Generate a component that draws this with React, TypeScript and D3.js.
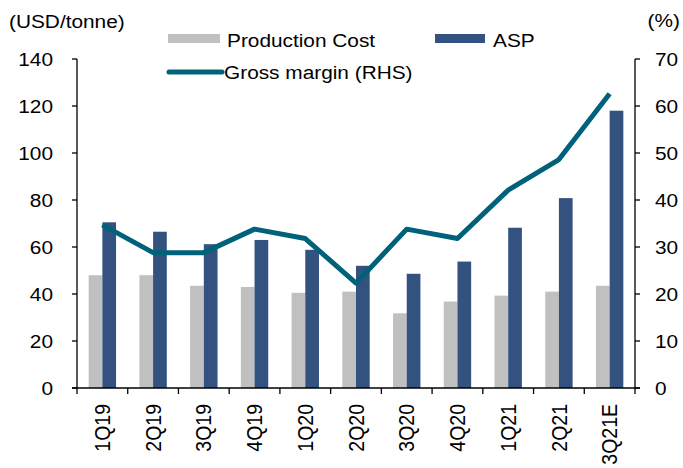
import * as d3 from 'd3'

const quarters = ['1Q19', '2Q19', '3Q19', '4Q19', '1Q20', '2Q20', '3Q20', '4Q20', '1Q21', '2Q21', '3Q21E']
const productionCost = [48, 48, 43.5, 43, 40.5, 41, 31.8, 36.8, 39.3, 41, 43.5]
const asp = [70.5, 66.5, 61.2, 63, 58.8, 52, 48.6, 53.8, 68.2, 80.8, 118]
const grossMargin = [34.7, 28.8, 28.8, 33.8, 31.8, 22.3, 33.8, 31.8, 42.1, 48.6, 62.6]
const leftTicks = [0, 20, 40, 60, 80, 100, 120, 140]
const rightTicks = [0, 10, 20, 30, 40, 50, 60, 70]

const W = 683
const H = 468
const MARGIN = { top: 59, right: 48, bottom: 80, left: 77 }
const FONT = 'Liberation Sans, Arial, sans-serif'
const FS = 18.6
const SX = 1.12 // reference text is slightly stretched horizontally
const GRAY = '#c0c0c0'
const BLUE = '#34527f'
const TEAL = '#00627a'

// text with the horizontal stretch of the reference
const T = ({ x, y, anchor = 'start', dy, children }: any) => (
  <text
    transform={`translate(${x},${y}) scale(${SX},1)`}
    textAnchor={anchor}
    dy={dy}
    fontSize={FS}
  >
    {children}
  </text>
)

export default function App() {
  const boundsWidth = W - MARGIN.left - MARGIN.right
  const boundsHeight = H - MARGIN.top - MARGIN.bottom

  const xScale = d3.scaleBand().domain(quarters).range([0, boundsWidth]).padding(0)
  const yLeft = d3.scaleLinear().domain([0, 140]).range([boundsHeight, 0])
  const yRight = d3.scaleLinear().domain([0, 70]).range([boundsHeight, 0])

  const bw = xScale.bandwidth()
  const barW = bw * 0.27

  const line = d3
    .line<number>()
    .x((_, i) => (xScale(quarters[i]) ?? 0) + bw / 2)
    .y((d) => yRight(d))

  return (
    <svg width={W} height={H} style={{ position: 'absolute', left: 0, top: 0 }}>
      <rect width={W} height={H} fill="white" />
      <g fontFamily={FONT} fill="#000">
        <T x={9} y={28}>(USD/tonne)</T>
        <T x={680} y={27} anchor="end">(%)</T>

        {/* legend */}
        <rect x={168} y={34} width={52} height={9} fill={GRAY} />
        <T x={227} y={47}>Production Cost</T>
        <rect x={435} y={34} width={50} height={9} fill={BLUE} />
        <T x={493} y={47}>ASP</T>
        <line x1={169} x2={222} y1={72} y2={72} stroke={TEAL} strokeWidth={5} strokeLinecap="round" />
        <T x={224} y={79}>Gross margin (RHS)</T>
      </g>

      <g transform={`translate(${MARGIN.left},${MARGIN.top})`}>
        {quarters.map((q, i) => {
          const x0 = (xScale(q) ?? 0) + bw / 2
          return (
            <g key={q}>
              <rect
                x={x0 - barW}
                y={yLeft(productionCost[i])}
                width={barW}
                height={boundsHeight - yLeft(productionCost[i])}
                fill={GRAY}
              />
              <rect
                x={x0}
                y={yLeft(asp[i])}
                width={barW}
                height={boundsHeight - yLeft(asp[i])}
                fill={BLUE}
              />
            </g>
          )
        })}

        <path
          d={line(grossMargin) ?? ''}
          fill="none"
          stroke={TEAL}
          strokeWidth={5}
          strokeLinejoin="round"
        />

        {/* axes */}
        <g stroke="#000" strokeWidth={1.3}>
          <line x1={0} x2={0} y1={0} y2={boundsHeight} />
          <line x1={boundsWidth} x2={boundsWidth} y1={0} y2={boundsHeight} />
          <line x1={-5} x2={boundsWidth + 5} y1={boundsHeight} y2={boundsHeight} />
          {leftTicks.map((t) => (
            <line key={`l${t}`} x1={-5} x2={0} y1={yLeft(t)} y2={yLeft(t)} />
          ))}
          {rightTicks.map((t) => (
            <line key={`r${t}`} x1={boundsWidth} x2={boundsWidth + 5} y1={yRight(t)} y2={yRight(t)} />
          ))}
          {quarters.map((q) => (
            <line key={`t${q}`} x1={xScale(q)} x2={xScale(q)} y1={boundsHeight} y2={boundsHeight + 6} />
          ))}
          <line x1={boundsWidth} x2={boundsWidth} y1={boundsHeight} y2={boundsHeight + 6} />
        </g>

        <g fontFamily={FONT} fill="#000">
          {leftTicks.map((t) => (
            <T key={`lt${t}`} x={-24} y={yLeft(t)} dy="0.35em" anchor="end">{t}</T>
          ))}
          {rightTicks.map((t) => (
            <T key={`rt${t}`} x={boundsWidth + 20} y={yRight(t)} dy="0.35em">{t}</T>
          ))}
          {quarters.map((q) => (
            <text
              key={`xt${q}`}
              transform={`translate(${(xScale(q) ?? 0) + bw / 2},${boundsHeight + 16}) scale(${SX},1) rotate(-90)`}
              dy="0.35em"
              textAnchor="end"
              fontSize={19.5}
            >
              {q}
            </text>
          ))}
        </g>
      </g>
    </svg>
  )
}
